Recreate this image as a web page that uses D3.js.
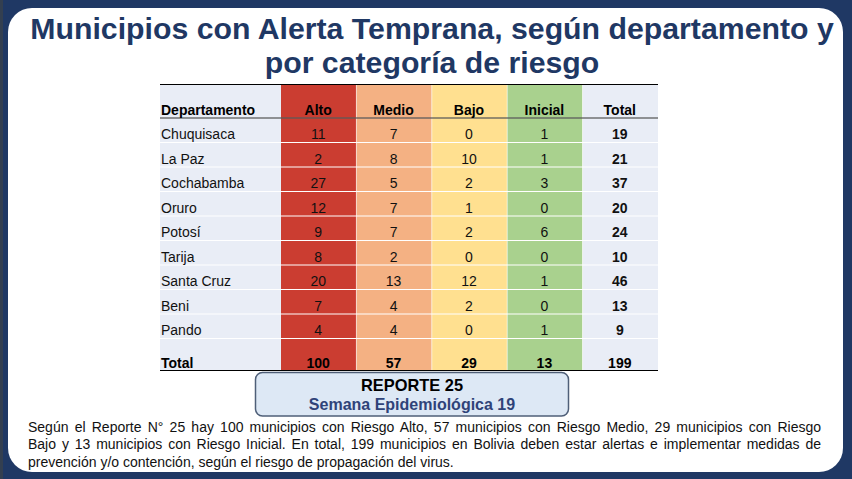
<!DOCTYPE html>
<html><head><meta charset="utf-8">
<script src="https://cdn.jsdelivr.net/npm/d3@7"></script>
<style>
html,body{margin:0;padding:0;background:#1f3864;overflow:hidden}
svg{display:block;position:absolute;left:0;top:0}
text{font-family:"Liberation Sans",Arial,sans-serif}
#para{position:absolute;left:28px;top:418.5px;width:793px;font:14px/17.5px "Liberation Sans",Arial,sans-serif;color:#111}
#para div{white-space:normal;text-align:justify;text-align-last:justify}
#para div:last-child{text-align-last:left}
</style></head><body>
<svg id="c" width="852" height="479"></svg>
<div id="para"></div>
<script>
const titleLines = ["Municipios con Alerta Temprana, según departamento y","por categoría de riesgo"];
const departments = ["Chuquisaca","La Paz","Cochabamba","Oruro","Potosí","Tarija","Santa Cruz","Beni","Pando"];
const columns = ["Alto","Medio","Bajo","Inicial","Total"];
const alto = [11,2,27,12,9,8,20,7,4];
const medio = [7,8,5,7,7,2,13,4,4];
const bajo = [0,10,2,1,2,0,12,2,0];
const inicial = [1,1,3,0,6,0,1,0,1];
const total = [19,21,37,20,24,10,46,13,9];
const totalsRow = [100,57,29,13,199];
const columnColors = ["#cb3d31","#f4b183","#ffe090","#a9d18e","#e9edf6"];
const reportLines = ["REPORTE 25","Semana Epidemiológica 19"];
const paragraphLines = [
  "Según el Reporte N° 25 hay 100 municipios con Riesgo Alto, 57 municipios con Riesgo Medio, 29 municipios con Riesgo",
  "Bajo y 13 municipios con Riesgo Inicial. En total, 199 municipios en Bolivia deben estar alertas e implementar medidas de",
  "prevención y/o contención, según el riesgo de propagación del virus."
];

const series = [alto,medio,bajo,inicial,total];
const svg = d3.select("#c");
svg.append("rect").attr("width",852).attr("height",479).attr("fill","#1f3864");
svg.append("rect").attr("width",3).attr("height",479).attr("fill","#333f50");
svg.append("rect").attr("x",8).attr("y",8).attr("width",835).attr("height",464).attr("rx",24).attr("fill","#fff");

svg.selectAll("text.title").data(titleLines).join("text").attr("class","title")
  .attr("x",432).attr("y",(d,i)=>38.5+i*34.5).attr("text-anchor","middle")
  .attr("font-size",30.25).attr("font-weight","bold").attr("fill","#1f3864").text(d=>d);

const x = d3.scaleBand().domain(columns).range([281,658]);
const yRows = d3.scaleBand().domain(departments).range([118,338.5]);
const tableTop=84.5, headBottom=118, tableBottom=370.5, tableLeft=160;

svg.append("rect").attr("x",tableLeft).attr("y",tableTop).attr("width",x("Alto")-tableLeft).attr("height",tableBottom-tableTop).attr("fill","#e9edf6");
svg.selectAll("rect.col").data(columns).join("rect").attr("class","col")
  .attr("x",d=>x(d)).attr("y",tableTop).attr("width",x.bandwidth()).attr("height",tableBottom-tableTop)
  .attr("fill",(d,i)=>columnColors[i]);
svg.selectAll("line.v").data(columns.slice(1)).join("line").attr("class","v")
  .attr("x1",d=>x(d)).attr("x2",d=>x(d)).attr("y1",tableTop).attr("y2",tableBottom)
  .attr("stroke","#fff").attr("stroke-opacity",.55).attr("stroke-width",1);
svg.selectAll("line.h").data(departments).join("line").attr("class","h")
  .attr("x1",tableLeft).attr("x2",658).attr("y1",d=>yRows(d)+yRows.bandwidth()).attr("y2",d=>yRows(d)+yRows.bandwidth())
  .attr("stroke","#fff").attr("stroke-width",1);
svg.append("line").attr("x1",tableLeft).attr("x2",658).attr("y1",tableTop).attr("y2",tableTop).attr("stroke","#000").attr("stroke-width",1);
svg.append("line").attr("x1",tableLeft).attr("x2",658).attr("y1",headBottom).attr("y2",headBottom).attr("stroke","#595959").attr("stroke-opacity",.85).attr("stroke-width",1.6);
svg.append("line").attr("x1",tableLeft).attr("x2",658).attr("y1",tableBottom).attr("y2",tableBottom).attr("stroke","#000").attr("stroke-width",1);

const fs = 14;
svg.append("text").attr("x",161).attr("y",115).attr("font-size",fs).attr("font-weight","bold").attr("fill","#000").text("Departamento");
svg.selectAll("text.hd").data(columns).join("text").attr("class","hd")
  .attr("x",d=>x(d)+x.bandwidth()/2-0.5).attr("y",115).attr("text-anchor","middle")
  .attr("font-size",fs).attr("font-weight","bold").attr("fill","#000").text(d=>d);
const rowOffset = 21.4;
svg.selectAll("text.dep").data(departments).join("text").attr("class","dep")
  .attr("x",161).attr("y",d=>yRows(d)+rowOffset).attr("font-size",fs).attr("fill","#111").text(d=>d);
columns.forEach((c,ci)=>{
  svg.selectAll("text.v"+ci).data(series[ci]).join("text").attr("class","v"+ci)
    .attr("x",x(c)+x.bandwidth()/2-0.5).attr("y",(d,i)=>yRows(departments[i])+rowOffset)
    .attr("text-anchor","middle").attr("font-size",fs)
    .attr("font-weight",c==="Total"?"bold":"normal").attr("fill","#111").text(d=>d);
});
svg.append("text").attr("x",161).attr("y",368).attr("font-size",fs).attr("font-weight","bold").attr("fill","#000").text("Total");
svg.selectAll("text.tot").data(totalsRow).join("text").attr("class","tot")
  .attr("x",(d,i)=>x(columns[i])+x.bandwidth()/2-0.5).attr("y",368).attr("text-anchor","middle")
  .attr("font-size",fs).attr("font-weight","bold").attr("fill","#000").text(d=>d);

svg.append("rect").attr("x",255.5).attr("y",372.5).attr("width",313).attr("height",43.5).attr("rx",7)
  .attr("fill","#dde8f5").attr("stroke","#4f5f78").attr("stroke-width",1.5);
svg.selectAll("text.rep").data(reportLines).join("text").attr("class","rep")
  .attr("x",412).attr("y",(d,i)=>391+i*19).attr("text-anchor","middle")
  .attr("font-size",(d,i)=>i?16:16.4).attr("font-weight","bold")
  .attr("fill",(d,i)=>i?"#2f4379":"#000").text(d=>d);

d3.select("#para").selectAll("div").data(paragraphLines).join("div").text(d=>d);
</script>
</body></html>
